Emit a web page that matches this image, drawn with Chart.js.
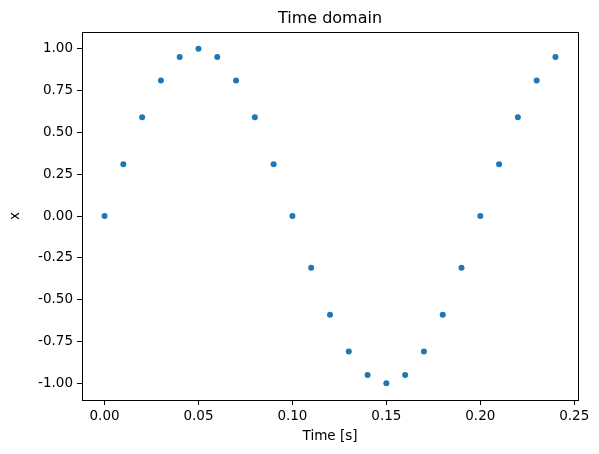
<!DOCTYPE html>
<html>
<head>
<meta charset="utf-8">
<script src="https://cdn.jsdelivr.net/npm/chart.js@4/dist/chart.umd.min.js"></script>
<style>
  html, body { margin: 0; padding: 0; background: #fff; }
  #wrap { width: 599px; height: 454px; }
</style>
</head>
<body>
<div id="wrap"><canvas id="c" width="599" height="454"></canvas></div>
<script>
// --- Time domain samples ---
const timeValues = [0.00, 0.01, 0.02, 0.03, 0.04, 0.05, 0.06, 0.07, 0.08, 0.09,
                    0.10, 0.11, 0.12, 0.13, 0.14, 0.15, 0.16, 0.17, 0.18, 0.19,
                    0.20, 0.21, 0.22, 0.23, 0.24];
const xValues = [0.00, 0.31, 0.59, 0.81, 0.95, 1.00, 0.95, 0.81, 0.59, 0.31,
                 0.00, -0.31, -0.59, -0.81, -0.95, -1.00, -0.95, -0.81, -0.59, -0.31,
                 0.00, 0.31, 0.59, 0.81, 0.95];
const xTicks = [0.00, 0.05, 0.10, 0.15, 0.20, 0.25];
const yTicks = [-1.00, -0.75, -0.50, -0.25, 0.00, 0.25, 0.50, 0.75, 1.00];
const chartTitle = 'Time domain';

const font = 'DejaVu Sans';

// frame + title centred over the axes, like matplotlib
const framePlugin = {
    id: 'frame',
    afterDraw(chart) {
        const { ctx, chartArea: a } = chart;
        ctx.save();
        ctx.strokeStyle = '#000';
        ctx.lineWidth = 1;
        ctx.strokeRect(Math.round(a.left) + 0.5, Math.round(a.top) + 0.5,
                       Math.round(a.right - a.left), Math.round(a.bottom - a.top));
        ctx.fillStyle = '#000';
        ctx.font = '16px "' + font + '"';
        ctx.textAlign = 'center';
        ctx.textBaseline = 'alphabetic';
        ctx.fillText(chartTitle, (a.left + a.right) / 2, a.top - 9);
        ctx.restore();
    }
};

const ctx = document.getElementById('c');
new Chart(ctx, {
    type: 'scatter',
    data: {
        datasets: [{
            data: timeValues.map((t, i) => ({ x: t, y: xValues[i] })),
            backgroundColor: '#1f77b4',
            borderColor: '#1f77b4',
            pointRadius: 3,
            pointBorderWidth: 0
        }]
    },
    options: {
        responsive: false,
        animation: false,
        layout: { padding: { left: 0, right: 21, top: 32, bottom: 0 } },
        plugins: {
            legend: { display: false },
            tooltip: { enabled: false },
            title: { display: false }
        },
        scales: {
            x: {
                type: 'linear',
                min: -0.012,
                max: 0.252,
                afterBuildTicks: s => { s.ticks = xTicks.map(v => ({ value: v })); },
                afterFit: s => { s.height = 54; },
                border: { color: '#000', width: 1 },
                grid: { drawOnChartArea: false, drawTicks: true, tickLength: 5, tickColor: '#000' },
                ticks: {
                    color: '#000',
                    padding: 3,
                    maxRotation: 0,
                    font: { family: font, size: 13.5 },
                    callback: v => v.toFixed(2)
                },
                title: {
                    display: true,
                    text: 'Time [s]',
                    color: '#000',
                    font: { family: font, size: 13.5 },
                    padding: { top: 0, bottom: 9 }
                }
            },
            y: {
                type: 'linear',
                min: -1.1,
                max: 1.1,
                afterBuildTicks: s => { s.ticks = yTicks.map(v => ({ value: v })); },
                afterFit: s => { s.width = 82; },
                border: { color: '#000', width: 1 },
                grid: { drawOnChartArea: false, drawTicks: true, tickLength: 5, tickColor: '#000' },
                ticks: {
                    color: '#000',
                    padding: 4,
                    font: { family: font, size: 13.5 },
                    callback: v => v.toFixed(2)
                },
                title: {
                    display: true,
                    text: 'x',
                    color: '#000',
                    font: { family: font, size: 13.5 },
                    padding: { top: 7, bottom: 4 }
                }
            }
        }
    },
    plugins: [framePlugin]
});
</script>
</body>
</html>
